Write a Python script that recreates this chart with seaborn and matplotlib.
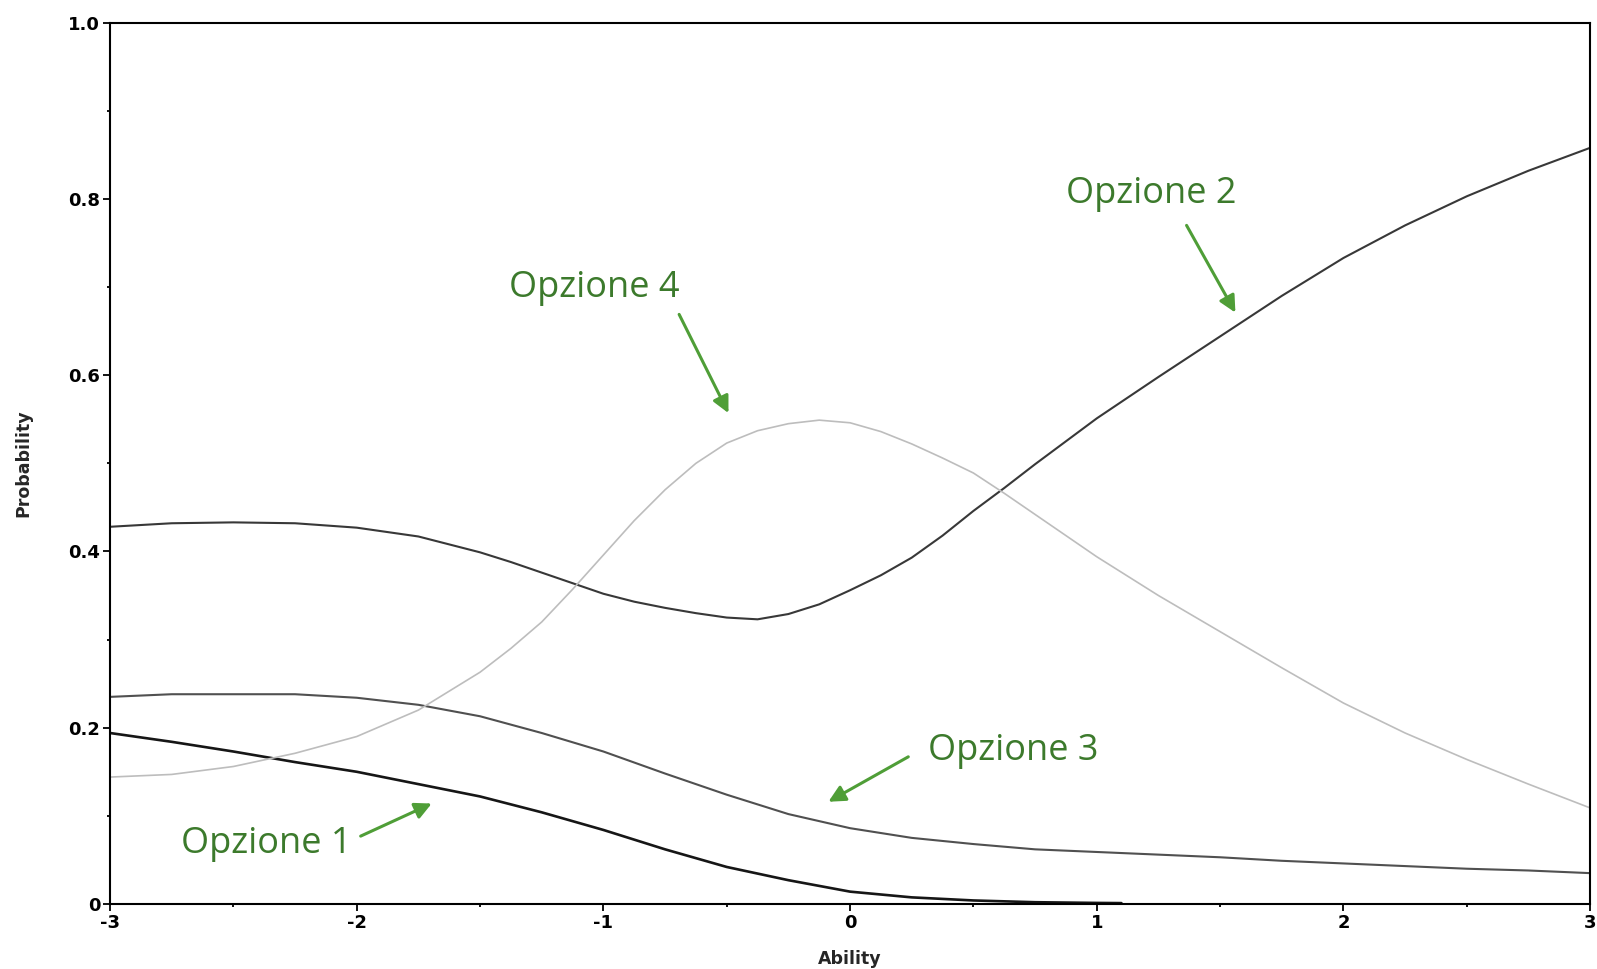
import numpy as np
import pandas as pd
import matplotlib
matplotlib.use("Agg")
import matplotlib.pyplot as plt
import seaborn as sns
from matplotlib.ticker import MultipleLocator, FixedLocator

# values
ability = [-3, -2.75, -2.5, -2.25, -2, -1.75, -1.5, -1.25, -1, -0.75, -0.5, -0.25,
           0, 0.25, 0.5, 0.75, 1, 1.25, 1.5, 1.75, 2, 2.25, 2.5, 2.75, 3]

# options 2 and 4 are read more densely in the middle, where they bend most
ability_fine = [-3, -2.75, -2.5, -2.25, -2, -1.75, -1.5, -1.375, -1.25, -1.125, -1, -0.875,
                -0.75, -0.625, -0.5, -0.375, -0.25, -0.125, 0, 0.125, 0.25, 0.375, 0.5,
                0.625, 0.75, 1, 1.25, 1.5, 1.75, 2, 2.25, 2.5, 2.75, 3]
opzione_2 = [0.428, 0.432, 0.433, 0.432, 0.427, 0.417, 0.399, 0.388, 0.376, 0.364, 0.352, 0.343,
             0.336, 0.330, 0.325, 0.323, 0.329, 0.340, 0.356, 0.373, 0.393, 0.418, 0.446,
             0.472, 0.499, 0.551, 0.598, 0.644, 0.690, 0.733, 0.770, 0.803, 0.832, 0.858]
opzione_4 = [0.144, 0.147, 0.156, 0.171, 0.190, 0.220, 0.263, 0.290, 0.320, 0.357, 0.396, 0.435,
             0.470, 0.500, 0.523, 0.537, 0.545, 0.549, 0.546, 0.536, 0.522, 0.506, 0.489,
             0.466, 0.442, 0.394, 0.350, 0.309, 0.268, 0.228, 0.194, 0.164, 0.136, 0.109]

opzione_3 = [0.235, 0.238, 0.238, 0.238, 0.234, 0.226, 0.213, 0.194, 0.173, 0.148, 0.124, 0.102,
             0.086, 0.075, 0.068, 0.062, 0.059, 0.056, 0.053, 0.049, 0.046, 0.043, 0.040, 0.038, 0.035]

# option 1 stops at about 1.1 on the ability axis
ability_1 = [-3, -2.75, -2.5, -2.25, -2, -1.75, -1.5, -1.25, -1, -0.75, -0.5, -0.25,
             0, 0.25, 0.5, 0.75, 1, 1.1]
opzione_1 = [0.194, 0.184, 0.173, 0.161, 0.150, 0.136, 0.122, 0.104, 0.084, 0.062, 0.042, 0.027,
             0.014, 0.0075, 0.004, 0.002, 0.0012, 0.001]

labels = ["Opzione 1", "Opzione 2", "Opzione 3", "Opzione 4"]
label_pos = [(-2.365, 0.058), (1.22, 0.795), (0.661, 0.163), (-1.036, 0.689)]
arrow_from = [(-1.984, 0.077), (1.364, 0.770), (0.236, 0.167), (-0.693, 0.669)]
arrow_to = [(-1.696, 0.114), (1.562, 0.671), (-0.088, 0.116), (-0.493, 0.557)]

sns.set_theme(style="white")
plt.rcParams["font.family"] = ["DejaVu Sans"]

fig = plt.figure(figsize=(15.97, 9.69), dpi=100)
ax = fig.add_axes([0.0689, 0.0671, 0.9268, 0.9095])

series = [
    (ability_1, opzione_1, "#161616", 1.9),
    (ability_fine, opzione_2, "#383838", 1.5),
    (ability, opzione_3, "#505050", 1.5),
    (ability_fine, opzione_4, "#bdbdbd", 1.2),
]
for (xs, ys, col, lw), name in zip(series, labels):
    df = pd.DataFrame({"Ability": xs, "Probability": ys})
    sns.lineplot(data=df, x="Ability", y="Probability", color=col, linewidth=lw, ax=ax)

ax.set_xlim(-3, 3)
ax.set_ylim(0, 1.0)
ax.xaxis.set_major_locator(FixedLocator([-3, -2, -1, 0, 1, 2, 3]))
ax.xaxis.set_minor_locator(MultipleLocator(0.5))
ax.yaxis.set_major_locator(FixedLocator([0, 0.2, 0.4, 0.6, 0.8, 1.0]))
ax.yaxis.set_minor_locator(MultipleLocator(0.1))
ax.set_yticklabels(["0", "0.2", "0.4", "0.6", "0.8", "1.0"])
ax.set_xticklabels(["-3", "-2", "-1", "0", "1", "2", "3"])

ax.tick_params(which="major", direction="out", length=5, width=1.3, colors="black",
               labelsize=13, pad=2, bottom=True, left=True)
ax.tick_params(which="minor", direction="out", length=2.5, width=1.3, colors="black",
               bottom=True, left=True)
for t in ax.get_xticklabels() + ax.get_yticklabels():
    t.set_fontweight("bold")

for sp in ax.spines.values():
    sp.set_visible(True)
    sp.set_color("black")
    sp.set_linewidth(1.5)

ax.set_xlabel("Ability", fontsize=12.5, fontweight="bold", labelpad=13)
ax.set_ylabel("Probability", fontsize=12.5, fontweight="bold", labelpad=26)

for name, (tx, ty), a0, a1 in zip(labels, label_pos, arrow_from, arrow_to):
    ax.text(tx, ty, name, ha="center", va="baseline", fontsize=26,
            family=["Open Sans"], color="#3c7a2c")
    ax.annotate("", xy=a1, xytext=a0,
                arrowprops=dict(arrowstyle="-|>", color="#4f9e37", lw=2.2,
                                mutation_scale=25, shrinkA=0, shrinkB=0))

fig.savefig("out.png", dpi=100)
